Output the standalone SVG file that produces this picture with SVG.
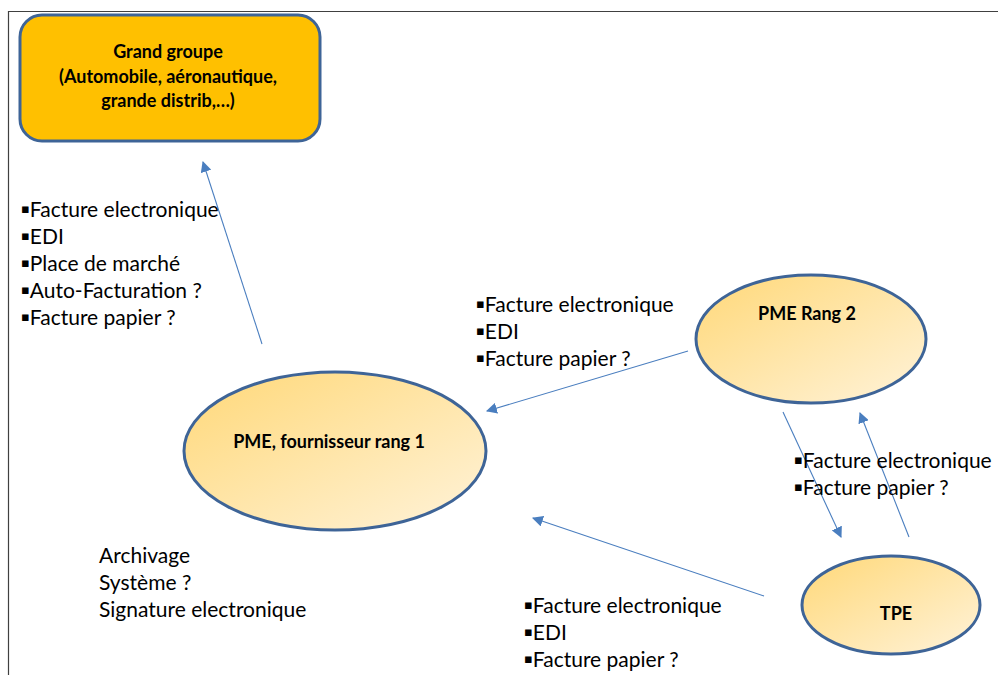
<svg xmlns="http://www.w3.org/2000/svg" width="998" height="675" viewBox="0 0 998 675">
  <style>
    .frame { fill: none; stroke: #404040; stroke-width: 1.2; }
    .node-shape { stroke: #3E6497; stroke-width: 3; }
    .title { font-family: Lato, "Open Sans", sans-serif; font-weight: bold; font-size: 18px; fill: #000; text-anchor: middle; }
    .list { font-family: Lato, "Open Sans", sans-serif; font-size: 21px; fill: #000; }
    .bul { font-family: "DejaVu Sans", sans-serif; font-size: 13px; }
    .edge { stroke: #4A7EBF; stroke-width: 1.1; fill: none; marker-end: url(#arrow); }
  </style>
  <defs>
    <linearGradient id="oval" x1="0" y1="0" x2="1" y2="1">
      <stop offset="0" stop-color="#FFD878"/>
      <stop offset="1" stop-color="#FFF3DA"/>
    </linearGradient>
    <marker id="arrow" viewBox="0 0 10 10" refX="9" refY="5" markerWidth="11" markerHeight="11" markerUnits="userSpaceOnUse" orient="auto">
      <path d="M0,0 L10,5 L0,10 z" fill="#4A7EBF"/>
    </marker>
  </defs>

  <rect width="998" height="675" fill="#fff"/>
  <path class="frame" d="M8.5,675 V11.5 H998"/>

  <g id="grand-groupe">
    <rect class="node-shape" x="20" y="15" width="300" height="126" rx="22" fill="#FFC000"/>
    <text class="title" x="168" y="58">Grand groupe</text>
    <text class="title" x="168" y="83">(Automobile, aéronautique,</text>
    <text class="title" x="168" y="107">grande distrib,…)</text>
  </g>

  <g id="pme-rang-1">
    <ellipse class="node-shape" cx="335" cy="451" rx="151" ry="79" fill="url(#oval)"/>
    <text class="title" x="329" y="448">PME, fournisseur rang 1</text>
  </g>

  <g id="pme-rang-2">
    <ellipse class="node-shape" cx="811" cy="339" rx="115" ry="64" fill="url(#oval)"/>
    <text class="title" x="807" y="320">PME Rang 2</text>
  </g>

  <g id="tpe">
    <ellipse class="node-shape" cx="891" cy="605" rx="89" ry="49" fill="url(#oval)"/>
    <text class="title" x="896" y="620">TPE</text>
  </g>

  <g id="connectors">
    <line class="edge" x1="262" y1="344" x2="203" y2="162"/>
    <line class="edge" x1="688" y1="351" x2="487" y2="411"/>
    <line class="edge" x1="783" y1="412" x2="841" y2="537"/>
    <line class="edge" x1="909" y1="537" x2="860" y2="413"/>
    <line class="edge" x1="764" y1="596" x2="533" y2="518"/>
  </g>

  <g id="labels">
    <text class="list" x="21" y="217"><tspan class="bul" dy="-4">▪</tspan><tspan dy="4">Facture electronique</tspan></text>
    <text class="list" x="21" y="244"><tspan class="bul" dy="-4">▪</tspan><tspan dy="4">EDI</tspan></text>
    <text class="list" x="21" y="271"><tspan class="bul" dy="-4">▪</tspan><tspan dy="4">Place de marché</tspan></text>
    <text class="list" x="21" y="298"><tspan class="bul" dy="-4">▪</tspan><tspan dy="4">Auto-Facturation ?</tspan></text>
    <text class="list" x="21" y="325"><tspan class="bul" dy="-4">▪</tspan><tspan dy="4">Facture papier ?</tspan></text>

    <text class="list" x="476" y="312"><tspan class="bul" dy="-4">▪</tspan><tspan dy="4">Facture electronique</tspan></text>
    <text class="list" x="476" y="339"><tspan class="bul" dy="-4">▪</tspan><tspan dy="4">EDI</tspan></text>
    <text class="list" x="476" y="366"><tspan class="bul" dy="-4">▪</tspan><tspan dy="4">Facture papier ?</tspan></text>

    <text class="list" x="794" y="468"><tspan class="bul" dy="-4">▪</tspan><tspan dy="4">Facture electronique</tspan></text>
    <text class="list" x="794" y="495"><tspan class="bul" dy="-4">▪</tspan><tspan dy="4">Facture papier ?</tspan></text>

    <text class="list" x="524" y="613"><tspan class="bul" dy="-4">▪</tspan><tspan dy="4">Facture electronique</tspan></text>
    <text class="list" x="524" y="640"><tspan class="bul" dy="-4">▪</tspan><tspan dy="4">EDI</tspan></text>
    <text class="list" x="524" y="667"><tspan class="bul" dy="-4">▪</tspan><tspan dy="4">Facture papier ?</tspan></text>

    <text class="list" x="99" y="563">Archivage</text>
    <text class="list" x="99" y="590">Système ?</text>
    <text class="list" x="99" y="617">Signature electronique</text>
  </g>
</svg>
